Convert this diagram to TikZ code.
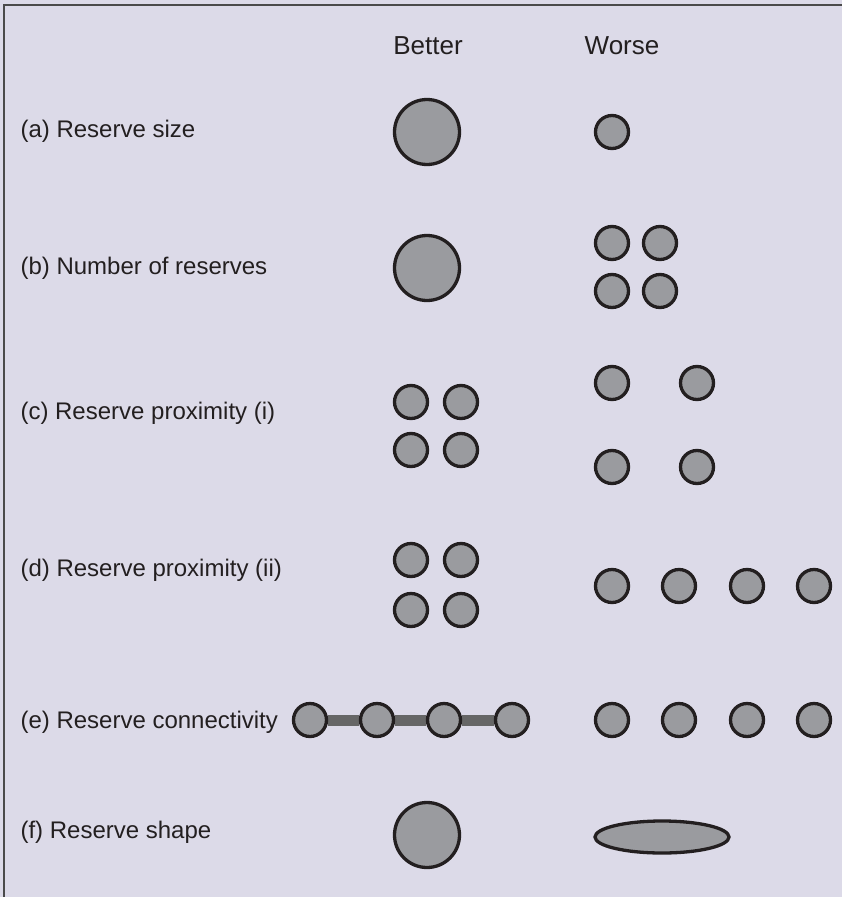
\documentclass[tikz,border=0pt]{standalone}
\usepackage{fontspec}
\setmainfont{Liberation Sans}
\usetikzlibrary{backgrounds,shapes.geometric}
\definecolor{panelbg}{HTML}{DCDAE8}
\definecolor{reservefill}{HTML}{9A9B9F}
\definecolor{reserveline}{HTML}{231F20}
\definecolor{corridor}{HTML}{666666}
\definecolor{frameline}{HTML}{4A4A4A}

\begin{document}
\begin{tikzpicture}[x=1pt, y=-1pt,
    reserve/.style={circle, draw=reserveline, fill=reservefill, line width=3.3pt, inner sep=0pt, minimum size=33pt},
    bigreserve/.style={reserve, minimum size=65pt},
    longreserve/.style={ellipse, draw=reserveline, fill=reservefill, line width=3.3pt, inner sep=0pt, minimum width=134pt, minimum height=32pt},
    rowlabel/.style={anchor=base west, text=reserveline, font=\fontsize{24}{28}\selectfont},
    colhead/.style={anchor=base, text=reserveline, font=\fontsize{26}{30}\selectfont},
    link/.style={draw=corridor, line width=11pt}]
    \useasboundingbox (0,0) rectangle (842,897);
    \begin{pgfonlayer}{background}
        \fill[panelbg] (0,0) rectangle (842,897);
    \end{pgfonlayer}
    \draw[frameline, line width=2pt] (4,897) -- (4,5) -- (842,5);

    % Column heads
    \node[colhead] (better) at (428,54) {Better};
    \node[colhead] (worse) at (622,54) {Worse};

    % (a) Size
    \node[rowlabel] (lbla) at (17,137) {(a) Reserve size};
    \node[bigreserve] (a1) at (427,132) {};
    \node[reserve] (a2) at (612,132) {};

    % (b) Number
    \node[rowlabel] (lblb) at (17,274) {(b) Number of reserves};
    \node[bigreserve] (b1) at (427,268) {};
    \node[reserve] (b2) at (612,243) {};
    \node[reserve] (b3) at (660,243) {};
    \node[reserve] (b4) at (612,291) {};
    \node[reserve] (b5) at (660,291) {};

    % (c) Proximity, grid
    \node[rowlabel] (lblc) at (17,419) {(c) Reserve proximity (i)};
    \node[reserve] (c1) at (411,402) {};
    \node[reserve] (c2) at (461,402) {};
    \node[reserve] (c3) at (411,450) {};
    \node[reserve] (c4) at (461,450) {};
    \node[reserve] (c5) at (612,383) {};
    \node[reserve] (c6) at (697,383) {};
    \node[reserve] (c7) at (612,467) {};
    \node[reserve] (c8) at (697,467) {};

    % (d) Proximity, row
    \node[rowlabel] (lbld) at (17,576) {(d) Reserve proximity (ii)};
    \node[reserve] (d1) at (411,560) {};
    \node[reserve] (d2) at (461,560) {};
    \node[reserve] (d3) at (411,610) {};
    \node[reserve] (d4) at (461,610) {};
    \node[reserve] (d5) at (612,586) {};
    \node[reserve] (d6) at (679,586) {};
    \node[reserve] (d7) at (747,586) {};
    \node[reserve] (d8) at (814,586) {};

    % (e) Connectivity
    \node[rowlabel] (lble) at (17,728) {(e) Reserve connectivity};
    \node[reserve] (e1) at (310,720) {};
    \node[reserve] (e2) at (377,720) {};
    \node[reserve] (e3) at (444,720) {};
    \node[reserve] (e4) at (512,720) {};
    \node[reserve] (e5) at (612,720) {};
    \node[reserve] (e6) at (679,720) {};
    \node[reserve] (e7) at (747,720) {};
    \node[reserve] (e8) at (814,720) {};
    \begin{pgfonlayer}{background}
        \draw[link] (e1) -- (e2);
        \draw[link] (e2) -- (e3);
        \draw[link] (e3) -- (e4);
    \end{pgfonlayer}

    % (f) Shape
    \node[rowlabel] (lblf) at (17,838) {(f) Reserve shape};
    \node[bigreserve] (f1) at (427,835) {};
    \node[longreserve] (f2) at (662,837) {};
\end{tikzpicture}
\end{document}
